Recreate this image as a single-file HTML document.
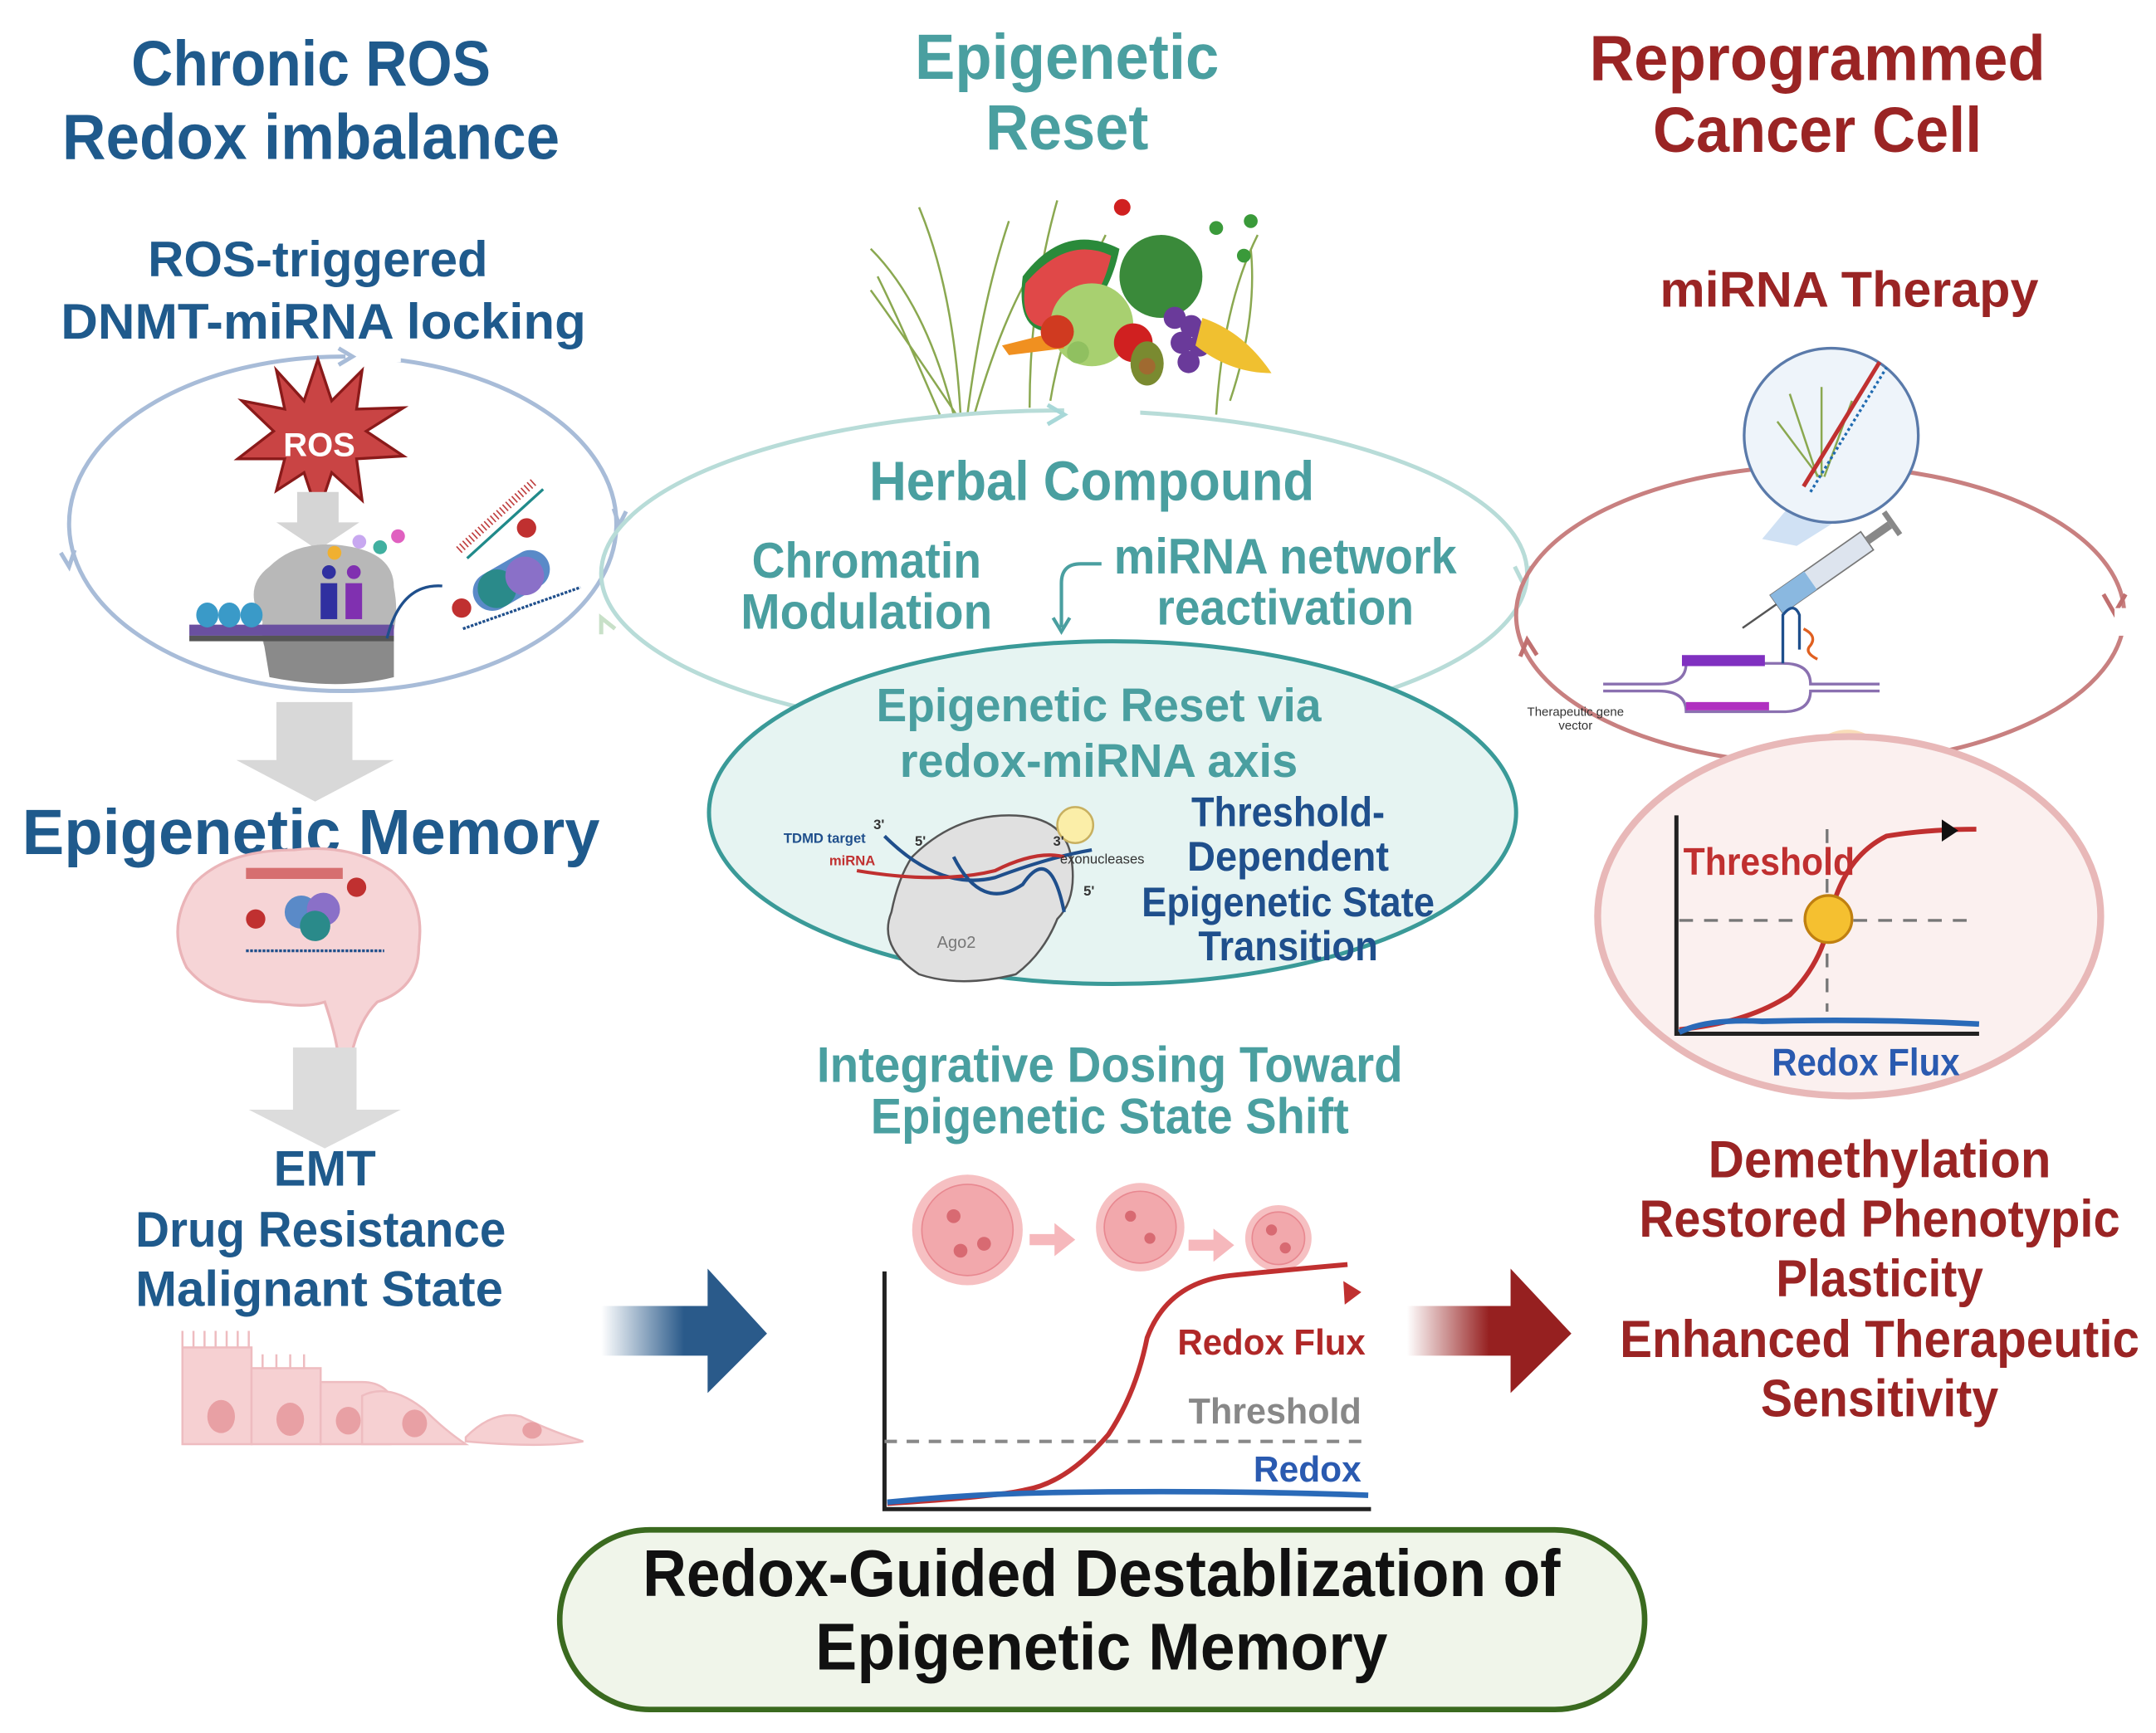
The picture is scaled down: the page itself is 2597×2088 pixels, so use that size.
<!DOCTYPE html>
<html><head><meta charset="utf-8"><style>
html,body{margin:0;padding:0;background:#fff}
svg{display:block}
text{font-family:"Liberation Sans Narrow","Liberation Sans",sans-serif;font-weight:bold}
</style></head><body>
<svg width="2597" height="2088" viewBox="0 0 1560 1254" preserveAspectRatio="none" xmlns="http://www.w3.org/2000/svg">
<defs>
<linearGradient id="gb" x1="0" x2="1"><stop offset="0" stop-color="#2a5a8a" stop-opacity="0"/><stop offset="0.5" stop-color="#2a5a8a"/><stop offset="1" stop-color="#2a5a8a"/></linearGradient>
<linearGradient id="gr" x1="0" x2="1"><stop offset="0" stop-color="#962020" stop-opacity="0"/><stop offset="0.5" stop-color="#962020"/><stop offset="1" stop-color="#962020"/></linearGradient>
</defs>

<g text-anchor="middle" font-size="46">
<text x="225" y="62" fill="#1f5a8c" textLength="260" lengthAdjust="spacingAndGlyphs">Chronic ROS</text>
<text x="225" y="115" fill="#1f5a8c" textLength="360" lengthAdjust="spacingAndGlyphs">Redox imbalance</text>
<text x="772" y="57" fill="#4a9fa0" textLength="220" lengthAdjust="spacingAndGlyphs">Epigenetic</text>
<text x="772" y="108" fill="#4a9fa0" textLength="118" lengthAdjust="spacingAndGlyphs">Reset</text>
<text x="1315" y="58" fill="#9a2424" textLength="330" lengthAdjust="spacingAndGlyphs">Reprogrammed</text>
<text x="1315" y="110" fill="#9a2424" textLength="238" lengthAdjust="spacingAndGlyphs">Cancer Cell</text>
</g>
<g text-anchor="middle" font-size="36" fill="#1f5a8c">
<text x="230" y="200" textLength="246" lengthAdjust="spacingAndGlyphs">ROS-triggered</text>
<text x="234" y="245" textLength="380" lengthAdjust="spacingAndGlyphs">DNMT-miRNA locking</text>
</g>

<ellipse cx="248" cy="379" rx="198" ry="121" fill="none" stroke="#a8bcd8" stroke-width="3"/>
<rect x="250" y="250" width="40" height="12" fill="#fff"/>
<path d="M245 252 l10 6 -10 6" fill="none" stroke="#a8bcd8" stroke-width="3"/>
<path d="M54 398 l-4 12 -6 -10" fill="none" stroke="#a8bcd8" stroke-width="3"/>
<path d="M444 368 l4 12 5 -10" fill="none" stroke="#a8bcd8" stroke-width="3"/>
<polygon points="230,260 240,290 262,268 258,296 292,295 265,312 292,330 258,332 262,362 240,342 230,372 220,342 200,355 206,332 172,332 198,312 175,290 206,296 200,268 220,290" fill="#c94444" stroke="#8a1a1a" stroke-width="2"/>
<text x="231" y="330" text-anchor="middle" font-size="24" fill="#fff">ROS</text>
<path d="M215 356 h30 v22 h15 l-30 20 -30 -20 h15z" fill="#d5d5d5"/>
<path d="M195 410 q20 -20 55 -15 q35 5 35 30 q5 25 -5 45 q-20 20 -60 15 q-35 -5 -30 -35 q-15 -25 5 -40z" fill="#b8b8b8"/>
<path d="M190 460 h95 v30 q-40 10 -90 0z" fill="#8a8a8a"/>
<rect x="137" y="452" width="148" height="8" fill="#6a50a0"/>
<rect x="137" y="460" width="148" height="4" fill="#555"/>
<g fill="#3a9ac8"><ellipse cx="150" cy="445" rx="8" ry="9"/><ellipse cx="166" cy="445" rx="8" ry="9"/><ellipse cx="182" cy="445" rx="8" ry="9"/></g>
<rect x="232" y="422" width="12" height="26" fill="#3030a0"/><rect x="250" y="422" width="12" height="26" fill="#8030b0"/>
<circle cx="238" cy="414" r="5" fill="#3030a0"/><circle cx="256" cy="414" r="5" fill="#8030b0"/>
<circle cx="242" cy="400" r="5" fill="#f0b030"/><circle cx="260" cy="392" r="5" fill="#c8a8f0"/><circle cx="275" cy="396" r="5" fill="#40b0a0"/><circle cx="288" cy="388" r="5" fill="#e060c0"/>
<path d="M280 462 q10 -40 40 -38" fill="none" stroke="#1f4f8c" stroke-width="2"/>
<g transform="translate(370,420) rotate(-30)"><rect x="-30" y="-14" width="60" height="28" rx="14" fill="#5a8ac8"/><circle cx="-12" cy="0" r="14" fill="#2a8a8a"/><circle cx="10" cy="2" r="14" fill="#8a70c8"/></g>
<path d="M332 398 l55 -50" stroke="#c04040" stroke-width="6" stroke-dasharray="1 2"/>
<path d="M338 404 l55 -50" stroke="#208a8a" stroke-width="2"/>
<circle cx="334" cy="440" r="7" fill="#c03030"/><circle cx="381" cy="382" r="7" fill="#c03030"/>
<path d="M335 455 l85 -30" stroke="#1f4f8c" stroke-width="2" stroke-dasharray="2 1"/>

<path d="M200 508 h55 v42 h30 l-57 30 -57 -30 h29z" fill="#d8d8d8"/>
<text x="225" y="618" text-anchor="middle" font-size="46" fill="#1f5a8c" textLength="418" lengthAdjust="spacingAndGlyphs">Epigenetic Memory</text>
<path d="M140 640 q-20 30 -5 60 q20 25 60 25 q25 5 40 0 q10 30 10 45 l8 0 q5 -30 20 -45 q30 -10 30 -40 q5 -35 -20 -55 q-30 -20 -70 -15 q-50 0 -73 25z" fill="#f6d4d6" stroke="#eab4b8" stroke-width="2"/>
<rect x="178" y="628" width="70" height="8" fill="#c94444" opacity="0.7"/>
<g transform="translate(228,660)"><circle cx="-10" cy="0" r="12" fill="#5a8ac8"/><circle cx="6" cy="-2" r="12" fill="#8a70c8"/><circle cx="0" cy="10" r="11" fill="#2a8a8a"/></g>
<circle cx="185" cy="665" r="7" fill="#c03030"/><circle cx="258" cy="642" r="7" fill="#c03030"/>
<path d="M178 688 h100" stroke="#1f4f8c" stroke-width="2" stroke-dasharray="2 1"/>
<path d="M212 758 h46 v45 h32 l-55 28 -55 -28 h32z" fill="#dcdcdc"/>

<g text-anchor="middle" font-size="36" fill="#1f5a8c">
<text x="235" y="858" textLength="74" lengthAdjust="spacingAndGlyphs">EMT</text>
<text x="232" y="902" textLength="268" lengthAdjust="spacingAndGlyphs">Drug Resistance</text>
<text x="231" y="945" textLength="266" lengthAdjust="spacingAndGlyphs">Malignant State</text>
</g>
<g fill="#f6d0d2" stroke="#eebcc0" stroke-width="1.5">
<rect x="132" y="975" width="50" height="70"/><rect x="182" y="990" width="50" height="55"/>
<path d="M232 1000 h30 q20 0 25 20 q5 25 -5 25 h-50z"/>
<path d="M262 1010 q20 -10 45 10 q15 15 30 25 h-75z"/>
<path d="M337 1040 q20 -20 40 -15 q20 10 45 18 q-30 5 -85 0z"/>
<path d="M132 975 v-12 M140 975 v-12 M148 975 v-12 M156 975 v-12 M164 975 v-12 M172 975 v-12 M180 975 v-12 M190 990 v-10 M200 990 v-10 M210 990 v-10 M220 990 v-10" fill="none"/>
</g>
<g fill="#e8a0a4"><ellipse cx="160" cy="1025" rx="10" ry="12"/><ellipse cx="210" cy="1027" rx="10" ry="12"/><ellipse cx="252" cy="1028" rx="9" ry="10"/><ellipse cx="300" cy="1030" rx="9" ry="10"/><ellipse cx="385" cy="1035" rx="7" ry="6"/></g>

<path d="M435 945 h77 v-27 l43 47 -43 43 v-27 h-77z" fill="url(#gb)"/>
<path d="M1018 945 h75 v-27 l44 47 -44 43 v-27 h-75z" fill="url(#gr)"/>

<g>
<g stroke="#8aa850" stroke-width="1.5" fill="none">
<path d="M690 300 q-20 -80 -60 -120 M695 300 q-5 -90 -30 -150 M700 300 q10 -80 30 -140 M692 300 q-40 -60 -62 -90 M745 295 q0 -80 20 -150 M880 300 q5 -80 30 -130 M890 290 q20 -60 15 -110 M680 300 q-30 -70 -45 -100 M705 300 q20 -70 45 -110 M760 290 q10 -60 40 -120"/>
</g>
<path d="M740 200 q30 -40 70 -20 q-10 50 -50 60 q-25 0 -20 -40z" fill="#2a8a3a"/>
<path d="M742 205 q30 -35 62 -20 q-10 45 -45 52 q-22 0 -17 -32z" fill="#e04848"/>
<circle cx="790" cy="235" r="30" fill="#a8d070"/>
<circle cx="840" cy="200" r="30" fill="#3a8a3a"/>
<circle cx="820" cy="248" r="14" fill="#d02020"/>
<g fill="#6a3a9a"><circle cx="850" cy="230" r="8"/><circle cx="862" cy="236" r="8"/><circle cx="855" cy="248" r="8"/><circle cx="868" cy="250" r="8"/><circle cx="860" cy="262" r="8"/></g>
<path d="M870 230 q30 10 50 40 q-30 0 -55 -20z" fill="#f0c030"/>
<ellipse cx="830" cy="263" rx="12" ry="16" fill="#7a8a30"/><circle cx="830" cy="265" r="6" fill="#a06a30"/>
<path d="M725 250 l40 -10 5 12 -40 5z" fill="#f09020"/>
<circle cx="765" cy="240" r="12" fill="#d03a20"/>
<circle cx="780" cy="255" r="8" fill="#90c060"/>
<g fill="#3a9a3a"><circle cx="880" cy="165" r="5"/><circle cx="900" cy="185" r="5"/><circle cx="905" cy="160" r="5"/></g>
<circle cx="812" cy="150" r="6" fill="#d02020"/>
</g>

<ellipse cx="770" cy="415" rx="335" ry="118" fill="none" stroke="#b8dcd8" stroke-width="3"/>
<rect x="770" y="290" width="55" height="15" fill="#fff"/>
<path d="M758 293 l12 7 -12 7" fill="none" stroke="#a8d8d8" stroke-width="3"/>
<path d="M1096 410 l6 12 6 -12" fill="none" stroke="#b8dcd8" stroke-width="3"/>
<path d="M445 455 l-10 -8 0 12" fill="none" stroke="#c8e0c8" stroke-width="3"/>

<g text-anchor="middle" fill="#4a9fa0">
<text x="790" y="362" font-size="40" textLength="322" lengthAdjust="spacingAndGlyphs">Herbal Compound</text>
<text x="627" y="418" font-size="36" textLength="166" lengthAdjust="spacingAndGlyphs">Chromatin</text>
<text x="627" y="455" font-size="36" textLength="182" lengthAdjust="spacingAndGlyphs">Modulation</text>
<text x="930" y="415" font-size="36" textLength="248" lengthAdjust="spacingAndGlyphs">miRNA network</text>
<text x="930" y="452" font-size="36" textLength="186" lengthAdjust="spacingAndGlyphs">reactivation</text>
</g>
<path d="M797 408 h-15 q-14 0 -14 14 v32" fill="none" stroke="#4a9fa0" stroke-width="2.5"/>
<path d="M762 447 l6 10 6 -10" fill="none" stroke="#4a9fa0" stroke-width="2.5"/>

<ellipse cx="805" cy="588" rx="292" ry="124" fill="#e6f4f2" stroke="#3a9a98" stroke-width="3"/>
<g text-anchor="middle" fill="#4a9fa0" font-size="34">
<text x="795" y="522" textLength="322" lengthAdjust="spacingAndGlyphs">Epigenetic Reset via</text>
<text x="795" y="562" textLength="288" lengthAdjust="spacingAndGlyphs">redox-miRNA axis</text>
</g>
<g text-anchor="middle" fill="#1f4f8c" font-size="30">
<text x="932" y="598" textLength="140" lengthAdjust="spacingAndGlyphs">Threshold-</text>
<text x="932" y="630" textLength="146" lengthAdjust="spacingAndGlyphs">Dependent</text>
<text x="932" y="663" textLength="212" lengthAdjust="spacingAndGlyphs">Epigenetic State</text>
<text x="932" y="695" textLength="130" lengthAdjust="spacingAndGlyphs">Transition</text>
</g>
<path d="M660 620 q30 -30 70 -30 q40 0 45 30 q5 30 -10 45 q-10 25 -30 40 q-40 10 -70 0 q-30 -20 -20 -45 q5 -25 15 -40z" fill="#e0e0e0" stroke="#555" stroke-width="1.5"/>
<text x="678" y="686" font-size="12" fill="#777" style="font-weight:normal">Ago2</text>
<path d="M640 605 q40 40 80 30 q40 -15 70 -20" fill="none" stroke="#1f4f8c" stroke-width="2.5"/>
<path d="M620 630 q60 10 100 0 q30 -15 50 -10" fill="none" stroke="#c03030" stroke-width="2.5"/>
<path d="M690 620 q20 40 50 20 q20 -30 30 20" fill="none" stroke="#1f4f8c" stroke-width="2.5"/>
<circle cx="778" cy="597" r="13" fill="#fbeea8" stroke="#c8b060" stroke-width="1.5"/>
<text x="567" y="610" font-size="10" fill="#1f4f8c">TDMD target</text>
<text x="600" y="626" font-size="10" fill="#c03030">miRNA</text>
<text x="767" y="625" font-size="10" fill="#333" style="font-weight:normal">exonucleases</text>
<text x="632" y="600" font-size="10" fill="#333">3'</text><text x="662" y="612" font-size="10" fill="#333">5'</text><text x="762" y="612" font-size="10" fill="#333">3'</text><text x="784" y="648" font-size="10" fill="#333">5'</text>

<g text-anchor="middle" fill="#4a9fa0" font-size="36">
<text x="803" y="783" textLength="424" lengthAdjust="spacingAndGlyphs">Integrative Dosing Toward</text>
<text x="803" y="820" textLength="346" lengthAdjust="spacingAndGlyphs">Epigenetic State Shift</text>
</g>
<g fill="#f2a8ac" stroke="#e88890" stroke-width="1">
<circle cx="700" cy="890" r="40" fill="#f6c0c2" stroke="none"/><circle cx="700" cy="890" r="33"/>
<circle cx="825" cy="888" r="32" fill="#f6c0c2" stroke="none"/><circle cx="825" cy="888" r="26"/>
<circle cx="925" cy="896" r="24" fill="#f6c0c2" stroke="none"/><circle cx="925" cy="896" r="19"/>
</g>
<g fill="#d86a72"><circle cx="690" cy="880" r="5"/><circle cx="712" cy="900" r="5"/><circle cx="695" cy="905" r="5"/><circle cx="818" cy="880" r="4"/><circle cx="832" cy="896" r="4"/><circle cx="920" cy="890" r="4"/><circle cx="930" cy="903" r="4"/></g>
<path d="M745 893 h18 v-8 l15 12 -15 12 v-8 h-18z" fill="#f6b8bc"/>
<path d="M860 897 h18 v-8 l15 12 -15 12 v-8 h-18z" fill="#f6b8bc"/>
<path d="M640 920 V1092 H992" fill="none" stroke="#222" stroke-width="3"/>
<path d="M640 1043 H990" stroke="#888" stroke-width="2.5" stroke-dasharray="9 7"/>
<path d="M642 1088 q80 -5 100 -10 q30 -5 60 -40 q20 -30 28 -70 q15 -40 60 -45 q50 -5 85 -8" fill="none" stroke="#c03030" stroke-width="3.5"/>
<path d="M972 927 l13 8 -12 9z" fill="#c03030"/>
<path d="M642 1087 q60 -6 120 -7 q120 -2 228 2" fill="none" stroke="#2a6ab8" stroke-width="4"/>
<g text-anchor="end" font-size="26">
<text x="988" y="980" fill="#b02828" textLength="136" lengthAdjust="spacingAndGlyphs">Redox Flux</text>
<text x="985" y="1030" fill="#888" textLength="125" lengthAdjust="spacingAndGlyphs">Threshold</text>
<text x="985" y="1072" fill="#2a5ab0" textLength="78" lengthAdjust="spacingAndGlyphs">Redox</text>
</g>

<rect x="405" y="1107" width="785" height="130" rx="65" fill="#f0f5ea" stroke="#3a6a1f" stroke-width="4"/>
<g text-anchor="middle" font-size="48" fill="#111">
<text x="797" y="1155" textLength="664" lengthAdjust="spacingAndGlyphs">Redox-Guided Destablization of</text>
<text x="797" y="1208" textLength="414" lengthAdjust="spacingAndGlyphs">Epigenetic Memory</text>
</g>

<text x="1338" y="222" text-anchor="middle" font-size="36" fill="#9a2424" textLength="274" lengthAdjust="spacingAndGlyphs">miRNA Therapy</text>
<ellipse cx="1317" cy="445" rx="220" ry="108" fill="none" stroke="#c88080" stroke-width="3"/>
<path d="M1522 430 l8 14 8 -14" fill="none" stroke="#c07070" stroke-width="3"/>
<path d="M1100 475 l5 -12 7 11" fill="none" stroke="#c07070" stroke-width="3"/>
<rect x="1530" y="440" width="10" height="20" fill="#fff"/>
<polygon points="1275,390 1300,360 1340,370 1300,395" fill="#bcd4f0" opacity="0.7"/>
<circle cx="1325" cy="315" r="63" fill="#eef4fa" stroke="#5a7aaa" stroke-width="2"/>
<g stroke="#8aa850" stroke-width="1.5"><path d="M1315 345 l-20 -60 M1318 345 l0 -65 M1320 345 l20 -55 M1316 345 l-30 -40"/></g>
<path d="M1305 352 l55 -90" stroke="#c03030" stroke-width="3"/><path d="M1310 356 l55 -90" stroke="#1f6ab0" stroke-width="2" stroke-dasharray="2 2"/>
<g transform="translate(1310,420) rotate(-35)"><rect x="-30" y="-8" width="80" height="16" fill="#dde4ee" stroke="#777"/><rect x="50" y="-3" width="20" height="6" fill="#888"/><rect x="70" y="-10" width="4" height="20" fill="#888"/><line x1="-30" y1="0" x2="-60" y2="0" stroke="#555" stroke-width="1.5"/><rect x="-30" y="-8" width="30" height="16" fill="#8ab8e0"/></g>
<path d="M1160 495 h40 q20 0 20 -15 h70 q20 0 20 15 h50" fill="none" stroke="#8a70b0" stroke-width="2"/>
<path d="M1160 500 h40 q20 0 20 15 h70 q20 0 20 -15 h50" fill="none" stroke="#8a70b0" stroke-width="2"/>
<rect x="1217" y="474" width="60" height="8" fill="#8030c0"/>
<rect x="1220" y="508" width="60" height="6" fill="#b030c0"/>
<path d="M1290 480 v-35 q8 -10 12 0 v25" fill="none" stroke="#1f4f8c" stroke-width="2"/>
<path d="M1305 455 q10 5 5 12 q-5 5 5 10" fill="none" stroke="#e06020" stroke-width="2"/>
<text x="1140" y="518" font-size="9" fill="#333" text-anchor="middle" style="font-weight:normal">Therapeutic gene</text>
<text x="1140" y="528" font-size="9" fill="#333" text-anchor="middle" style="font-weight:normal">vector</text>
<path d="M1308 548 q30 -30 55 0 q20 10 25 25" fill="none" stroke="#f8d4a8" stroke-width="10" opacity="0.8"/>
<ellipse cx="1338" cy="663" rx="182" ry="130" fill="#fbf0ef" stroke="#e8b8b8" stroke-width="5"/>
<path d="M1213 590 V748 H1432" fill="none" stroke="#222" stroke-width="3"/>
<path d="M1215 666 H1425" stroke="#777" stroke-width="2" stroke-dasharray="10 8"/>
<path d="M1322 600 V732" stroke="#777" stroke-width="2" stroke-dasharray="10 8"/>
<path d="M1215 745 q50 -5 80 -25 q25 -25 30 -60 q10 -40 40 -55 q30 -5 65 -5" fill="none" stroke="#c03030" stroke-width="3.5"/>
<path d="M1215 747 q20 -10 60 -8 q80 -2 157 2" fill="none" stroke="#2a6ab8" stroke-width="4"/>
<path d="M1405 593 l12 8 -12 8z" fill="#111"/>
<circle cx="1323" cy="665" r="17" fill="#f5c030" stroke="#c08010" stroke-width="2"/>
<text x="1218" y="633" font-size="28" fill="#c03030" textLength="124" lengthAdjust="spacingAndGlyphs">Threshold</text>
<text x="1350" y="778" text-anchor="middle" font-size="28" fill="#2a5ab0" textLength="136" lengthAdjust="spacingAndGlyphs">Redox Flux</text>

<g text-anchor="middle" font-size="38" fill="#9a2424">
<text x="1360" y="852" textLength="248" lengthAdjust="spacingAndGlyphs">Demethylation</text>
<text x="1360" y="895" textLength="348" lengthAdjust="spacingAndGlyphs">Restored Phenotypic</text>
<text x="1360" y="938" textLength="150" lengthAdjust="spacingAndGlyphs">Plasticity</text>
<text x="1360" y="982" textLength="376" lengthAdjust="spacingAndGlyphs">Enhanced Therapeutic</text>
<text x="1360" y="1025" textLength="172" lengthAdjust="spacingAndGlyphs">Sensitivity</text>
</g>
</svg>
</body></html>
